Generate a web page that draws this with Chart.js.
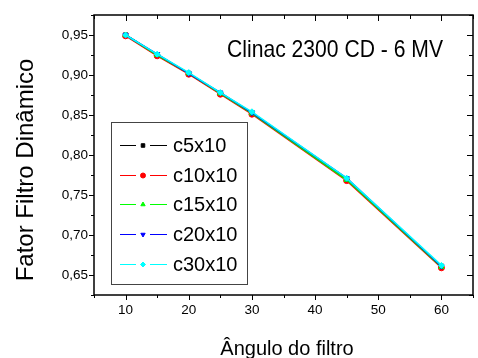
<!DOCTYPE html>
<html>
<head>
<meta charset="utf-8">
<script src="https://cdn.jsdelivr.net/npm/chart.js@4/dist/chart.umd.min.js"></script>
<style>
  html, body { margin: 0; padding: 0; background: #fff; overflow: hidden; }
</style>
</head>
<body>
<canvas id="chart" width="478" height="358"></canvas>
<script>
// angulo do filtro (graus)
const angles = [10, 15, 20, 25, 30, 45, 60];

// fator filtro dinamico por campo
const c5x10  = [0.950, 0.925, 0.902, 0.877, 0.853, 0.770, 0.661];
const c10x10 = [0.949, 0.924, 0.901, 0.876, 0.851, 0.768, 0.659];
const c15x10 = [0.950, 0.925, 0.902, 0.877, 0.852, 0.769, 0.660];
const c20x10 = [0.950, 0.926, 0.902, 0.878, 0.853, 0.771, 0.661];
const c30x10 = [0.950, 0.926, 0.903, 0.878, 0.854, 0.771, 0.662];

const seriesNames = ['c5x10', 'c10x10', 'c15x10', 'c20x10', 'c30x10'];
const seriesValues = [c5x10, c10x10, c15x10, c20x10, c30x10];

const xTicks = [10, 20, 30, 40, 50, 60];
const xMinorTicks = [5, 15, 25, 35, 45, 55, 65];
const yTicks = [0.65, 0.70, 0.75, 0.80, 0.85, 0.90, 0.95];
const yMinorTicks = [0.625, 0.675, 0.725, 0.775, 0.825, 0.875, 0.925, 0.975];

const chartTitle = 'Clinac 2300 CD - 6 MV';
const xTitle = 'Ângulo do filtro';
const yTitle = 'Fator Filtro Dinâmico';

const colors = ['#000000', '#ff0000', '#00ff00', '#0000ff', '#00ffff'];
const styles = ['rect', 'circle', 'triangle', 'triangle', 'rectRot'];
const rotations = [0, 0, 0, 180, 0];
const FONT = '"Liberation Sans", Arial, sans-serif';

const datasets = seriesNames.map((name, i) => ({
  label: name,
  data: angles.map((a, j) => ({ x: a, y: seriesValues[i][j] })),
  borderColor: colors[i],
  backgroundColor: colors[i],
  borderWidth: 1.5,
  pointStyle: styles[i],
  rotation: rotations[i],
  pointRadius: 3,
  pointBorderWidth: 1,
  order: seriesNames.length - i   // c30x10 ends up on top
}));

// frame, ticks, legend box and texts
const framePlugin = {
  id: 'frame',
  afterDraw(chart) {
    const ctx = chart.ctx;
    const a = chart.chartArea;
    const xs = chart.scales.x, ys = chart.scales.y;
    ctx.save();

    ctx.strokeStyle = '#000';
    ctx.lineWidth = 1.5;
    ctx.strokeRect(a.left, a.top, a.right - a.left, a.bottom - a.top);

    ctx.lineWidth = 1;
    ctx.beginPath();
    const tickX = (v, len) => {
      const px = Math.round(xs.getPixelForValue(v)) + 0.5;
      ctx.moveTo(px, a.bottom); ctx.lineTo(px, a.bottom + len);
      ctx.moveTo(px, a.top); ctx.lineTo(px, a.top + len + 1);
    };
    const tickY = (v, len) => {
      const py = Math.round(ys.getPixelForValue(v)) + 0.5;
      ctx.moveTo(a.left, py); ctx.lineTo(a.left - len, py);
      ctx.moveTo(a.right, py); ctx.lineTo(a.right - len - 1, py);
    };
    xTicks.forEach(v => tickX(v, 5));
    xMinorTicks.forEach(v => tickX(v, 3));
    yTicks.forEach(v => tickY(v, 5));
    yMinorTicks.forEach(v => tickY(v, 3));
    ctx.stroke();

    // annotation
    ctx.fillStyle = '#000';
    ctx.textBaseline = 'alphabetic';
    ctx.textAlign = 'left';
    ctx.font = '24px ' + FONT;
    ctx.save();
    ctx.translate(227, 57);
    ctx.scale(0.88, 1);
    ctx.fillText(chartTitle, 0, 0);
    ctx.restore();

    // axis titles
    ctx.textAlign = 'center';
    ctx.font = '20px ' + FONT;
    ctx.fillText(xTitle, 287, 355);
    ctx.save();
    ctx.translate(33, 170);
    ctx.rotate(-Math.PI / 2);
    ctx.font = '24px ' + FONT;
    ctx.fillText(yTitle, 0, 0);
    ctx.restore();

    // legend
    ctx.strokeStyle = '#444';
    ctx.lineWidth = 1;
    ctx.strokeRect(111.5, 122.5, 136, 162);
    ctx.font = '20px ' + FONT;
    ctx.textAlign = 'left';
    ctx.textBaseline = 'middle';
    chart.data.datasets.forEach((ds, i) => {
      const y = Math.round(145 + i * 29.7) + 0.5;
      ctx.strokeStyle = ds.borderColor;
      ctx.fillStyle = ds.borderColor;
      ctx.lineWidth = 1;
      ctx.beginPath();
      ctx.moveTo(120, y); ctx.lineTo(136, y);
      ctx.moveTo(150, y); ctx.lineTo(167, y);
      ctx.stroke();
      Chart.helpers.drawPoint(ctx, {
        pointStyle: ds.pointStyle, rotation: ds.rotation, radius: 2.5, borderWidth: 1
      }, 143, y);
      ctx.fillStyle = '#000';
      ctx.fillText(ds.label, 173, y + 1);
    });
    ctx.restore();
  }
};

new Chart(document.getElementById('chart'), {
  type: 'line',
  data: { datasets },
  options: {
    responsive: false,
    devicePixelRatio: 1,
    animation: false,
    layout: { padding: { top: 15, right: 0, left: 0, bottom: 0 } },
    plugins: { legend: { display: false }, tooltip: { enabled: false } },
    scales: {
      x: {
        type: 'linear',
        min: 5,
        max: 65,
        afterFit(s) { s.height = 63; },
        afterBuildTicks(s) { s.ticks = xTicks.map(v => ({ value: v })); },
        grid: { display: false, drawTicks: false, tickLength: 0 },
        border: { display: false },
        ticks: { color: '#000', padding: 7, maxRotation: 0, font: { family: FONT, size: 13.5 } }
      },
      y: {
        type: 'linear',
        min: 0.625,
        max: 0.975,
        afterFit(s) { s.width = 94; },
        afterBuildTicks(s) { s.ticks = yTicks.map(v => ({ value: v })); },
        grid: { display: false, drawTicks: false, tickLength: 0 },
        border: { display: false },
        ticks: {
          color: '#000', padding: 6,
          font: { family: FONT, size: 13.5 },
          callback: v => v.toFixed(2).replace('.', ',')
        }
      }
    }
  },
  plugins: [framePlugin]
});
</script>
</body>
</html>
